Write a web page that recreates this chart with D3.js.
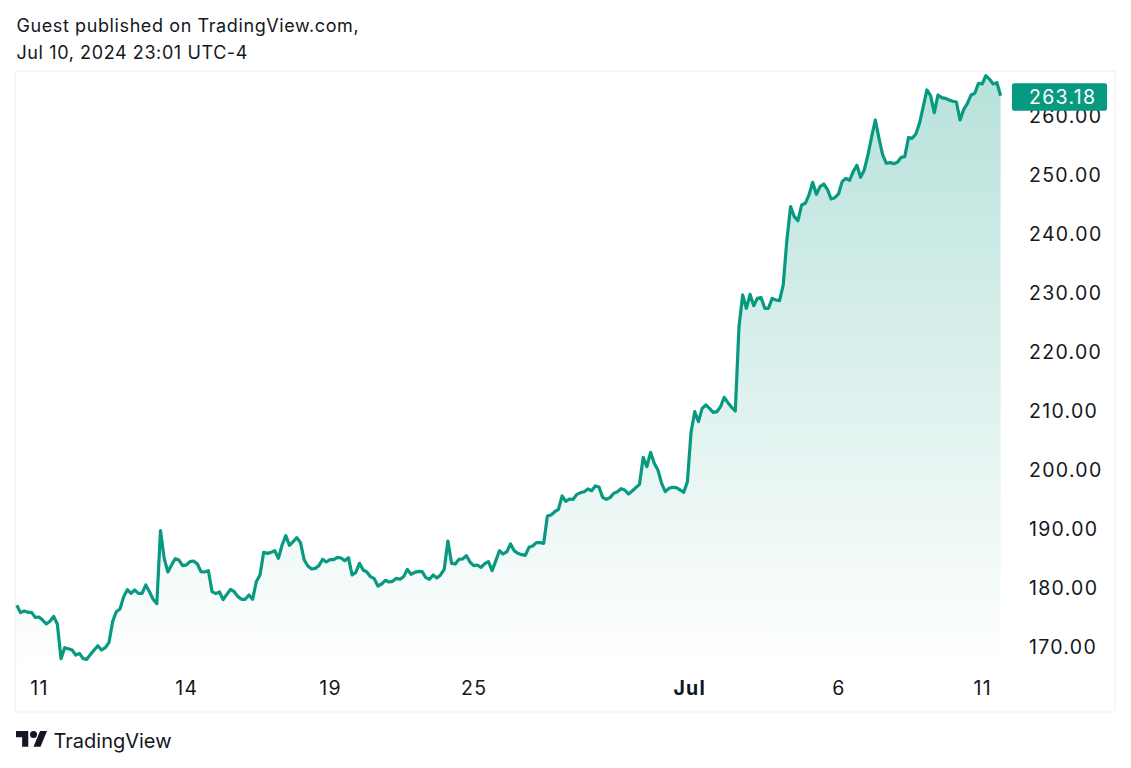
<!DOCTYPE html>
<html><head><meta charset="utf-8">
<script src="https://cdn.jsdelivr.net/npm/d3@7/dist/d3.min.js"></script>
<style>html,body{margin:0;background:#fff;overflow:hidden}svg{display:block}text{font-family:Inter,sans-serif}</style>
</head><body><svg id="c" width="1131" height="768"></svg>
<script>
const headerLines = ["Guest published on TradingView.com,", "Jul 10, 2024 23:01 UTC-4"];
const brand = "TradingView";
const priceTicks = [170,180,190,200,210,220,230,240,250,260];
const timeTickBars = [6,46,85,124,182.5,223,262];
const timeTickLabels = ["11","14","19","25","Jul","6","11"];
const lastPrice = 263.18;
const closes = [
176.81,175.57,175.85,175.62,175.62,174.77,174.83,174.32,173.64,174.10,174.94,173.64,167.77,169.63,169.45,169.24,168.39,168.67,167.77,167.66,
168.50,169.24,169.97,169.24,169.63,170.48,174.04,175.73,176.19,178.28,179.46,178.84,179.41,178.84,178.84,180.25,179.12,177.83,177.09,189.46,
184.77,182.46,183.64,184.72,184.49,183.53,183.64,184.21,184.32,183.81,182.51,182.46,182.68,179.12,178.79,179.07,177.77,178.67,179.52,179.12,
178.28,177.83,177.83,178.56,177.83,180.82,181.95,185.79,185.62,185.79,186.07,184.77,187.03,188.62,186.98,187.60,188.28,187.43,184.49,183.48,
182.97,183.08,183.53,184.61,184.15,184.55,184.55,184.94,184.83,184.38,184.89,
181.95,182.40,183.93,182.80,182.46,181.67,181.33,180.09,180.42,181.05,180.76,180.88,181.38,181.22,181.67,182.91,182.06,182.40,182.57,182.51,
181.50,181.22,181.95,181.44,181.95,182.91,187.71,183.93,183.81,184.61,184.66,185.23,184.15,183.53,183.64,183.25,183.87,184.21,182.68,184.38,
186.07,185.51,185.90,187.20,186.07,185.62,185.40,185.28,186.64,186.87,187.43,187.43,187.32,191.95,192.12,192.68,193.08,195.34,194.44,194.83,
194.78,195.62,195.91,196.07,196.53,196.24,197.04,196.87,195.11,194.78,195.06,195.79,196.07,196.58,196.36,195.68,196.19,196.75,197.32,201.89,
200.31,202.74,200.88,199.75,197.49,196.07,196.64,196.81,196.75,196.36,195.96,197.77,206.24,209.63,207.94,210.20,
210.76,210.20,209.52,209.63,210.48,212.06,211.16,210.37,209.75,224.04,229.41,227.15,229.52,227.60,228.84,228.96,227.15,227.15,228.84,228.56,
228.45,231.10,238.73,244.38,242.69,242.01,244.66,244.95,246.36,248.51,246.47,247.77,248.22,247.32,245.68,245.91,246.53,248.62,249.18,248.85,
250.31,251.39,249.35,250.60,253.14,256.25,259.07,255.96,253.14,251.73,251.84,251.67,251.90,252.74,252.86,256.08,255.96,256.70,258.51,261.33,
264.16,263.20,260.32,263.31,262.86,262.74,262.46,262.24,262.12,259.07,260.88,261.90,263.31,263.59,265.29,265.17,266.59,265.97,265.17,265.40,263.18
];

const svg = d3.select("#c");
const ink = "#131722", green = "#089981";
const x = d3.scaleLinear().domain([0, closes.length-1]).range([16.8, 1000.6]);
const y = d3.scaleLinear().domain([170,260]).range([645.5,114.5]);

svg.append("rect").attr("x",15.5).attr("y",71).attr("width",1099.5).attr("height",641)
  .attr("fill","#fff").attr("stroke","#f0f3fa").attr("stroke-width",1.5);

const defs = svg.append("defs");
const g = defs.append("linearGradient").attr("id","fade").attr("gradientUnits","userSpaceOnUse")
  .attr("x1",0).attr("x2",0).attr("y1",75).attr("y2",668);
g.append("stop").attr("offset",0).attr("stop-color",green).attr("stop-opacity",0.29);
g.append("stop").attr("offset",1).attr("stop-color",green).attr("stop-opacity",0);

svg.append("path").datum(closes).attr("fill","url(#fade)")
  .attr("d", d3.area().x((d,i)=>x(i)).y0(668).y1(d=>y(d)));
svg.append("path").datum(closes).attr("fill","none").attr("stroke",green).attr("stroke-width",3.2)
  .attr("stroke-linejoin","round").attr("stroke-linecap","butt")
  .attr("d", d3.line().x((d,i)=>x(i)).y(d=>y(d)));

const yAxis = d3.axisRight(y).tickValues(priceTicks).tickSize(0).tickPadding(0).tickFormat(d3.format(".2f"));
const ya = svg.append("g").attr("transform","translate(1029,1.6)").call(yAxis);
ya.select(".domain").remove();
ya.selectAll("text").attr("fill",ink).style("font-family","Inter,sans-serif").style("font-size","19.5px").style("letter-spacing","1.3px");

const xAxis = d3.axisBottom(x).tickValues(timeTickBars).tickSize(0).tickPadding(0)
  .tickFormat((d,i)=>timeTickLabels[i]);
const xa = svg.append("g").attr("transform","translate(0,681)").call(xAxis);
xa.select(".domain").remove();
xa.selectAll("text").attr("fill",ink).style("font-family","Inter,sans-serif").style("font-size","19.5px").style("letter-spacing","1.3px")
  .style("font-weight",d=>timeTickLabels[timeTickBars.indexOf(d)]==="Jul"?"700":"400");

svg.append("rect").attr("x",1012).attr("y",y(lastPrice)-12.5).attr("width",95).attr("height",27.5).attr("rx",2).attr("fill",green);
svg.append("text").attr("x",1029).attr("y",y(lastPrice)+1.5).attr("dy","0.35em").attr("fill","#fff")
  .style("font-size","19.5px").style("letter-spacing","1.3px").text(d3.format(".2f")(lastPrice));

svg.selectAll("text.h").data(headerLines).enter().append("text").attr("class","h")
  .attr("x",16.5).attr("y",(d,i)=>32+i*27).attr("fill",ink).style("font-size","18px").style("letter-spacing","0.6px").text(d=>d);

const logo = svg.append("g").attr("transform","translate(16,727.5) scale(0.875)").attr("fill",ink);
logo.append("path").attr("d","M14 22H7V11H0V4h14v18zM28 22h-8l7.5-18h8L28 22z");
logo.append("circle").attr("cx",20).attr("cy",8).attr("r",4);
svg.append("text").attr("x",53.5).attr("y",748).attr("fill",ink).style("font-size","20px").text(brand);
</script></body></html>
